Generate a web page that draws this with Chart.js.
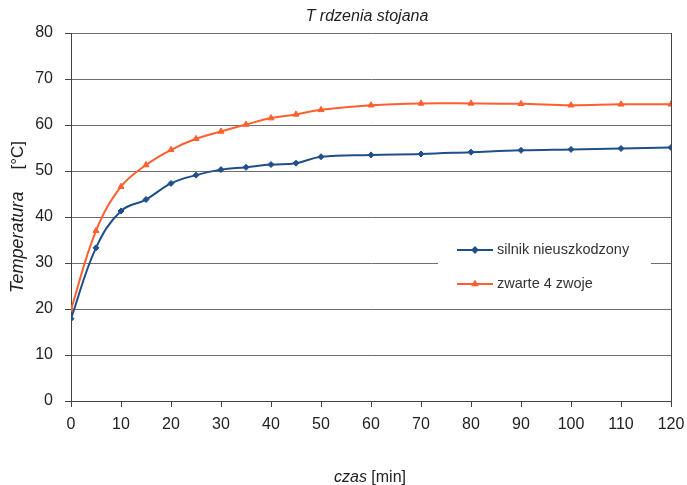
<!DOCTYPE html>
<html>
<head>
<meta charset="utf-8">
<script src="https://cdn.jsdelivr.net/npm/chart.js@4"></script>
<style>
  html, body { margin: 0; padding: 0; background: #fff; }
  #wrap { width: 687px; height: 485px; }
</style>
</head>
<body>
<div id="wrap"><canvas id="tempChart" width="687" height="485"></canvas></div>
<script>
// czas [min]
const czas = [0, 5, 10, 15, 20, 25, 30, 35, 40, 45, 50, 60, 70, 80, 90, 100, 110, 120];
// silnik nieuszkodzony
const silnikOk = [17.9, 33.3, 41.3, 43.8, 47.3, 49.1, 50.3, 50.8, 51.4, 51.7, 53.1, 53.5, 53.7, 54.1, 54.5, 54.7, 54.9, 55.1];
// zwarte 4 zwoje
const zwarte = [19.9, 37.0, 46.6, 51.3, 54.6, 57.0, 58.6, 60.1, 61.5, 62.3, 63.3, 64.3, 64.7, 64.7, 64.6, 64.3, 64.5, 64.5];
const seriesNames = ['silnik nieuszkodzony', 'zwarte 4 zwoje'];
const yTicks = [0, 10, 20, 30, 40, 50, 60, 70, 80];
const xTicks = [0, 10, 20, 30, 40, 50, 60, 70, 80, 90, 100, 110, 120];

const BLUE = '#1f4f8b';
const ORANGE = '#ff5f2e';
const FONT = '"Liberation Sans", Arial, sans-serif';

function toPoints(ys) {
    return czas.map((x, i) => ({ x: x, y: ys[i] }));
}

// titles + legend drawn on top of the chart
const decorations = {
    id: 'decorations',
    afterDraw(chart) {
        const ctx = chart.ctx;
        const area = chart.chartArea;
        ctx.save();
        ctx.fillStyle = '#222';
        ctx.textBaseline = 'middle';

        // chart title
        ctx.font = 'italic 16px ' + FONT;
        ctx.textAlign = 'center';
        ctx.fillText('T rdzenia stojana', 367, 17);

        // x axis title: italic + normal
        ctx.textAlign = 'left';
        ctx.font = 'italic 16px ' + FONT;
        const a = 'czas', b = ' [min]';
        const wa = ctx.measureText(a).width;
        ctx.font = '16px ' + FONT;
        const wb = ctx.measureText(b).width;
        let sx = 370 - (wa + wb) / 2;
        ctx.font = 'italic 16px ' + FONT;
        ctx.fillText(a, sx, 478);
        ctx.font = '16px ' + FONT;
        ctx.fillText(b, sx + wa, 478);

        // y axis title, rotated
        ctx.save();
        ctx.translate(18, (area.top + area.bottom) / 2);
        ctx.rotate(-Math.PI / 2);
        const c = 'Temperatura', d = '[°C]', gap = 22;
        ctx.font = 'italic 18px ' + FONT;
        const wc = ctx.measureText(c).width;
        ctx.font = '17px ' + FONT;
        const wd = ctx.measureText(d).width;
        sx = -(wc + gap + wd) / 2;
        ctx.font = 'italic 18px ' + FONT;
        ctx.fillText(c, sx, 0);
        ctx.font = '17px ' + FONT;
        ctx.fillText(d, sx + wc + gap, 0);
        ctx.restore();

        // legend box
        ctx.fillStyle = '#fff';
        ctx.fillRect(438, 236, 213, 62);
        const rows = [
            { name: seriesNames[0], color: BLUE, y: 250, style: 'rectRot' },
            { name: seriesNames[1], color: ORANGE, y: 284, style: 'triangle' }
        ];
        rows.forEach(r => {
            ctx.strokeStyle = r.color;
            ctx.lineWidth = 2;
            ctx.beginPath();
            ctx.moveTo(457, r.y);
            ctx.lineTo(493, r.y);
            ctx.stroke();
            ctx.fillStyle = r.color;
            Chart.helpers.drawPoint(ctx, { pointStyle: r.style, radius: 2.5, borderWidth: 1, rotation: 0 }, 475, r.y);
            ctx.fillStyle = '#333';
            ctx.font = '14.5px ' + FONT;
            ctx.textAlign = 'left';
            ctx.fillText(r.name, 497, r.y);
        });
        ctx.restore();
    }
};

document.addEventListener('DOMContentLoaded', function() {
    const ctxMain = document.getElementById('tempChart').getContext('2d');
    new Chart(ctxMain, {
        type: 'line',
        data: {
            datasets: [{
                label: seriesNames[0],
                data: toPoints(silnikOk),
                borderColor: BLUE,
                backgroundColor: BLUE,
                borderWidth: 2,
                tension: 0.4,
                pointStyle: 'rectRot',
                pointRadius: 3,
                pointBorderWidth: 1
            }, {
                label: seriesNames[1],
                data: toPoints(zwarte),
                borderColor: ORANGE,
                backgroundColor: ORANGE,
                borderWidth: 2,
                tension: 0.4,
                pointStyle: 'triangle',
                pointRadius: 3.5,
                pointBorderWidth: 1
            }]
        },
        options: {
            responsive: false,
            animation: false,
            layout: { padding: { left: 0, right: 16, top: 33, bottom: 0 } },
            plugins: {
                legend: { display: false },
                title: { display: false },
                tooltip: { enabled: false }
            },
            scales: {
                x: {
                    type: 'linear',
                    min: 0,
                    max: 120,
                    afterBuildTicks: s => { s.ticks = xTicks.map(v => ({ value: v })); },
                    afterFit: s => {
                        s.height = 84;
                        s.paddingLeft = 0;
                        s.paddingRight = 0;
                    },
                    grid: {
                        color: c => (c.tick && c.tick.value === 120) ? '#444' : 'rgba(0,0,0,0)',
                        tickColor: '#444',
                        tickLength: 6,
                        lineWidth: 1
                    },
                    border: { color: '#444', width: 1 },
                    ticks: {
                        padding: 8,
                        maxRotation: 0,
                        color: '#222',
                        font: { family: FONT, size: 16 }
                    }
                },
                y: {
                    min: 0,
                    max: 80,
                    afterBuildTicks: s => { s.ticks = yTicks.map(v => ({ value: v })); },
                    afterFit: s => {
                        s.width = 71;
                        s.paddingTop = 0;
                        s.paddingBottom = 0;
                    },
                    grid: {
                        color: '#6e6e6e',
                        tickColor: '#444',
                        tickLength: 6,
                        lineWidth: 1
                    },
                    border: { color: '#444', width: 1 },
                    ticks: {
                        padding: 12,
                        color: '#222',
                        font: { family: FONT, size: 16 }
                    }
                }
            }
        },
        plugins: [decorations]
    });
});
</script>
</body>
</html>
